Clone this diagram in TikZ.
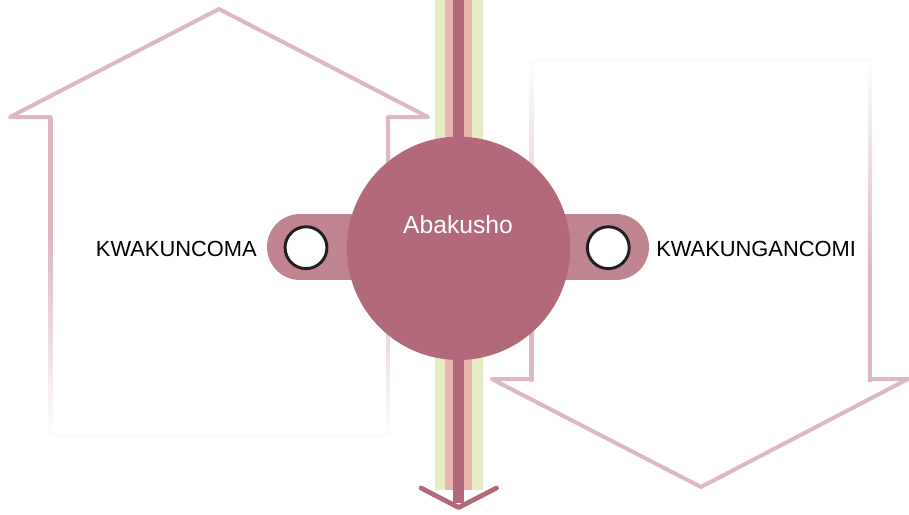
\documentclass[tikz,border=0pt]{standalone}
\usepackage{fontspec}
\setmainfont{Liberation Sans}
\definecolor{mauve}{HTML}{B26A7A}
\definecolor{tabc}{HTML}{BF8490}
\definecolor{stripeg}{HTML}{E6EDC4}
\definecolor{stripep}{HTML}{E8B6AE}
\definecolor{outl}{HTML}{DBB9BF}
\pgfdeclareverticalshading{fadeup}{100bp}{color(0bp)=(white); color(25bp)=(white); color(56bp)=(outl); color(100bp)=(outl)}
\pgfdeclareverticalshading{fadedown}{100bp}{color(0bp)=(outl); color(42.7bp)=(outl); color(75bp)=(white); color(100bp)=(white)}
\tikzset{
  outline/.style={draw=outl, line width=3pt, line join=round, line cap=round},
  port/.style={circle, draw=black!88, line width=2.2pt, fill=white, minimum size=31.4pt, inner sep=0pt},
  lbl/.style={font=\fontsize{16.4}{19}\selectfont, text=black, inner sep=0pt},
  hub/.style={circle, fill=mauve, minimum size=167.5pt, inner sep=0pt},
  tab/.style={draw=tabc, line width=49.5pt, line cap=round}
}
\begin{document}
\begin{tikzpicture}[x=0.75pt,y=-0.75pt]
\useasboundingbox (0,0) rectangle (909,514);
% left up arrow (house)
\shade[shading=fadeup] (48.5,117) rectangle (52.5,437);
\shade[shading=fadeup] (386,117) rectangle (390,437);
\fill[outl!7] (48.5,433) rectangle (390,437);
\draw[outline] (50.5,117) -- (10,117) -- (219,9) -- (428,117) -- (388,117);
% right down arrow
\shade[shading=fadedown] (529.7,59) rectangle (533.7,381);
\shade[shading=fadedown] (867.8,59) rectangle (871.8,381);
\fill[outl!7] (529.7,59) rectangle (871.8,63);
\draw[outline] (531.7,379) -- (491.7,379) -- (701,487) -- (908,379) -- (869.8,379);
% stripes
\coordinate (top) at (458.7,-2);
\coordinate (bot) at (458.7,490);
\coordinate (end) at (458.7,503);
\coordinate (tip) at (458.7,507.5);
\coordinate (al) at (421,488);
\coordinate (ar) at (496.5,488);
\draw[stripeg, line width=36pt] (top) -- (bot);
\draw[stripep, line width=20pt] (top) -- (bot);
\draw[mauve, line width=8.2pt] (top) -- (end);
\draw[mauve, line width=3.6pt, line cap=round, line join=round] (al) -- (tip) -- (ar);
% tabs
\coordinate (tl) at (300,247);
\coordinate (tr) at (616,247);
\coordinate (hc) at (458.5,247);
\draw[tab] (tl) -- (hc);
\draw[tab] (tr) -- (hc);
% hub
\node[hub] (hub) at (458.5,248.3) {};
\node[text=white, font=\fontsize{18.5}{22}\selectfont, inner sep=0pt, anchor=base] (name) at (458,233) {Abakusho};
% ports
\node[port] (pl) at (306,247.7) {};
\node[port] (pr) at (608.3,247.7) {};
\node[lbl, anchor=base east] (ll) at (257,256) {KWAKUNCOMA};
\node[lbl, anchor=base west] (lr) at (656,256) {KWAKUNGANCOMI};
\end{tikzpicture}
\end{document}
